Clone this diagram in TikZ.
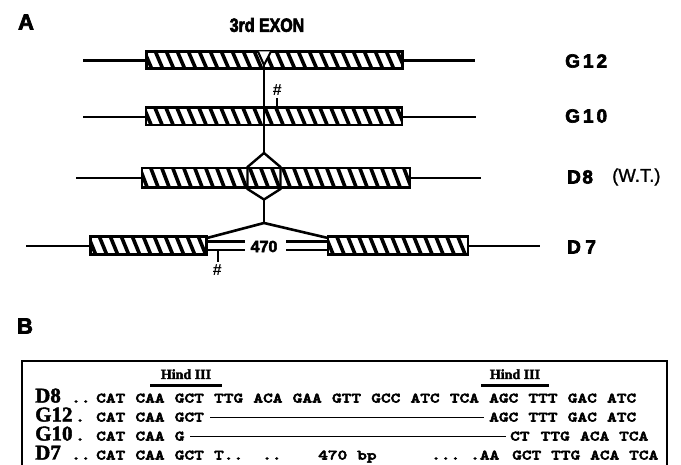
\documentclass[tikz,border=0pt]{standalone}
\usepackage{fontspec}
\setmainfont{Liberation Sans}[BoldFeatures={FakeBold=3.2}]
\newfontfamily\serifb{Liberation Serif}[BoldFeatures={FakeBold=2}]
\newfontfamily\seqfont{lmmonolt10-bold}[Extension=.otf,FakeStretch=1.3,FakeBold=4]
\newcommand\hatchrect[4]{%
  \fill[white] (#1,#2) rectangle (#3,#4);
  \begin{scope}
    \clip (#1,#2) rectangle (#3,#4);
    \foreach \i in {0,...,28} \draw[line width=3.6pt] ({#1-14+\i*11},{#2-2}) -- ++(9,{#4-#2+4});
  \end{scope}
  \draw[boxline] (#1,#2) rectangle (#3,#4);
}
\tikzset{
  gline/.style={line width=2.4pt},
  boxline/.style={line width=2.8pt},
  thinl/.style={line width=2pt},
  lbl/.style={font=\fontsize{19}{19}\selectfont\bfseries, anchor=west, inner sep=0},
  panel/.style={font=\fontsize{22}{22}\selectfont\bfseries, inner sep=0},
  hash/.style={font=\fontsize{16}{16}\selectfont\bfseries\itshape, inner sep=0},
  seq/.style={font=\fontsize{14.2}{14.2}\selectfont\seqfont, anchor=base west, inner sep=0},
  rowlbl/.style={font=\fontsize{21}{21}\selectfont\serifb\bfseries, anchor=base west, inner sep=0},
  hind/.style={font=\fontsize{14}{14}\selectfont\serifb\bfseries, anchor=base, inner sep=0},
}
\begin{document}
\begin{tikzpicture}[x=1pt,y=-1pt]
\path[use as bounding box, clip] (0,0) rectangle (681,465);
\fill[white] (0,0) rectangle (681,465);

% ---------- Panel A ----------
\node[panel] (A) at (26,22) {A};
\node[font=\fontsize{19}{19}\selectfont\bfseries\addfontfeature{FakeStretch=0.84,FakeBold=0.2}, inner sep=0] (exon) at (267,25) {3rd EXON};

% G12
\coordinate (g12l) at (83,60.5);
\coordinate (g12r) at (475,60.5);
\draw[gline] (g12l) -- (g12r);
\hatchrect{146.5}{51.5}{402.5}{68.5}
\filldraw[fill=white, thinl] (258,51.5) -- (264,65) -- (271,51.5);
\node[lbl] (lg12) at (565,61) {G\kern3pt1\kern3pt2};

% G10
\coordinate (g10l) at (83,117);
\coordinate (g10r) at (476,117);
\draw[gline] (g10l) -- (g10r);
\hatchrect{146}{107.5}{402}{125}
\node[lbl] (lg10) at (565,116) {G\kern3pt1\kern3pt0};
\coordinate (h1a) at (277,98);
\coordinate (h1b) at (277,107.5);
\draw[thinl] (h1a) -- (h1b);
\node[hash] (hash1) at (277,90) {\#};

% D8
\coordinate (d8l) at (76,178);
\coordinate (d8r) at (481,178);
\draw[gline] (d8l) -- (d8r);
\hatchrect{142}{168}{410}{187.5}
\node[lbl] (ld8) at (567,177) {D\kern1.5pt8};
\node[font=\fontsize{18.5}{18.5}\selectfont\addfontfeature{FakeBold=1.2}, anchor=west, inner sep=0] (wt) at (612,177) {(W.T.)};

% vertical connector and hexagon
\coordinate (vtop) at (264,65);
\coordinate (hxt) at (264,153);
\coordinate (hxb) at (264,199.5);
\coordinate (apex) at (264,223);
\draw[gline] (vtop) -- (hxt);
\draw[gline, line join=miter] (hxt) -- (247.5,167) -- (247.5,189) -- (hxb) -- (280.5,189) -- (280.5,167) -- cycle;
\draw[gline] (hxb) -- (apex);

% D7
\coordinate (d7l) at (26,246);
\coordinate (d7r) at (540,246);
\draw[gline] (d7l) -- (90.5,246);
\draw[gline] (468,246) -- (d7r);
\hatchrect{90.5}{236.5}{206.5}{254.5}
\hatchrect{328}{236.5}{468}{254.5}
\coordinate (b1c) at (207,238);
\coordinate (b2c) at (328,238);
\draw[line width=2.6pt] (b1c) -- (apex) -- (b2c);
\draw[gline] (206.5,241.5) -- (245,241.5);
\draw[gline] (206.5,250) -- (245,250);
\draw[gline] (286,241.5) -- (328,241.5);
\draw[gline] (286,250) -- (328,250);
\node[font=\fontsize{16}{16}\selectfont\bfseries, inner sep=0] (n470) at (264,246.5) {470};
\coordinate (h2a) at (218,250);
\coordinate (h2b) at (218,262);
\draw[thinl] (h2a) -- (h2b);
\node[hash] (hash2) at (217,270) {\#};
\node[lbl] (ld7) at (567,247) {D\kern4.5pt7};

% ---------- Panel B ----------
\node[panel] (B) at (25,326) {B};
\draw[line width=2.6pt] (22,475) -- (22,361) -- (667,361) -- (667,475);

\node[hind] (hindL) at (186,379) {Hind III};
\draw[line width=2.4pt] (150,385.5) -- (222,385.5);
\node[hind] (hindR) at (515,379) {Hind III};
\draw[line width=2.4pt] (481,385.5) -- (549,385.5);

% row labels
\node[rowlbl] (rD8) at (35,402.5) {D8};
\node[rowlbl] (rG12) at (35,421.5) {G12};
\node[rowlbl] (rG10) at (35,440.5) {G10};
\node[rowlbl] (rD7) at (35,459.5) {D7};
\node[seq] (dD8) at (71,402.5) {..};
\node[seq] (dG12) at (75,421.5) {.};
\node[seq] (dG10) at (75,440.5) {.};
\node[seq] (dD7) at (71,459.5) {..};

% D8 sequence
\foreach \c [count=\i from 0] in {CAT,CAA,GCT,TTG,ACA,GAA,GTT,GCC,ATC,TCA,AGC,TTT,GAC,ATC}
  \node[seq] (s8-\i) at ({96+\i*39.3},402.5) {\c};

% G12 sequence
\foreach \c [count=\i from 0] in {CAT,CAA,GCT}
  \node[seq] (s12a-\i) at ({96+\i*39.3},421.5) {\c};
\foreach \c [count=\i from 10] in {AGC,TTT,GAC,ATC}
  \node[seq] (s12b-\i) at ({96+\i*39.3},421.5) {\c};
\draw[line width=1.8pt] (210,417.5) -- (484,417.5);

% G10 sequence
\node[seq] (s10a) at (96,440.5) {CAT};
\node[seq] (s10b) at (135.3,440.5) {CAA};
\node[seq] (s10c) at (174.6,440.5) {G};
\node[seq] (s10d) at (510,440.5) {CT};
\node[seq] (s10e) at (540.5,440.5) {TTG};
\node[seq] (s10f) at (580,440.5) {ACA};
\node[seq] (s10g) at (619,440.5) {TCA};
\draw[line width=1.8pt] (190,436.5) -- (506,436.5);

% D7 sequence
\node[seq] (s7a) at (96,459.5) {CAT};
\node[seq] (s7b) at (135.3,459.5) {CAA};
\node[seq] (s7c) at (174.6,459.5) {GCT};
\node[seq] (s7d) at (213.9,459.5) {T..};
\node[seq] (s7e) at (262,459.5) {..};
\node[seq] (s7f) at (318,459.5) {470};
\node[seq] (s7g) at (357,459.5) {bp};
\node[seq] (s7h) at (431,459.5) {...};
\node[seq] (s7i) at (470,459.5) {.AA};
\node[seq] (s7j) at (512,459.5) {GCT};
\node[seq] (s7k) at (551,459.5) {TTG};
\node[seq] (s7l) at (590,459.5) {ACA};
\node[seq] (s7m) at (629,459.5) {TCA};
\end{tikzpicture}
\end{document}
